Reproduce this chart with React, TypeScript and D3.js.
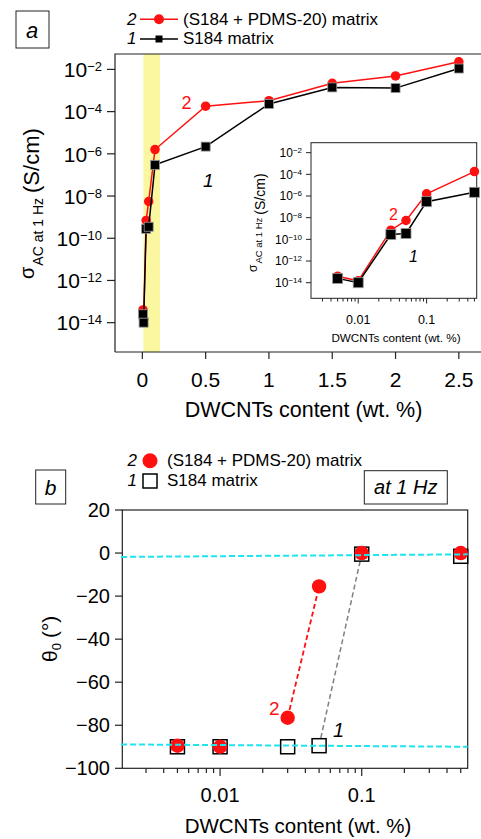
import * as d3 from "d3";
import React, { useRef, useEffect } from "react";

// ---- data ----
// panel a: AC conductivity at 1 Hz vs DWCNT content
const contentA = [0.005, 0.01, 0.03, 0.05, 0.1, 0.5, 1, 1.5, 2, 2.5];
const sigmaMix = [4e-14, 1.5e-14, 7e-10, 5.5e-9, 1.6e-6, 1.8e-4, 3.3e-4, 2.2e-3, 4.9e-3, 2.3e-2];
const sigmaS184 = [2.5e-14, 1e-14, 2.8e-10, 3.5e-10, 3e-7, 2.2e-6, 2.3e-4, 1.4e-3, 1.3e-3, 1.1e-2];
const insetContent = [0.005, 0.01, 0.03, 0.05, 0.1, 0.5];
const contentTicksA = [0, 0.5, 1, 1.5, 2, 2.5];
const sigmaExponents = [-2, -4, -6, -8, -10, -12, -14];
const percolationBand = [0.008, 0.14];

// panel b: phase angle at 1 Hz
const contentB = [0.005, 0.01, 0.03, 0.05, 0.1, 0.5];
const thetaMix = [-89.5, -90, -76.5, -15.5, 0, 0];
const thetaS184 = [-90, -90, -90, -89.5, -0.5, -1.5];
const thetaTicks = [20, 0, -20, -40, -60, -80, -100];
const logMajorTicks = [0.01, 0.1];
const fitX = [0.002, 0.56];
const fitUpper = [-1.8, -0.6];
const fitLower = [-88.9, -90];

const FONT = "'Liberation Sans', Arial, Helvetica, sans-serif";
const RED = "#ff1010";
const CYAN = "#1ee4f0";
const MINUS = "\u2212";

function logMinorTicks(domain) {
  const out = [];
  for (let e = -4; e <= 1; e++) {
    for (let m = 2; m <= 9; m++) {
      const v = m * Math.pow(10, e);
      if (v >= domain[0] && v <= domain[1]) out.push(v);
    }
  }
  return out;
}

function drawSeries(g, xs, ys, x, y, color, shape, size, lineW) {
  const pts = xs.map((v, i) => [x(v), y(ys[i])]);
  g.append("path")
    .attr("d", d3.line()(pts))
    .attr("fill", "none")
    .attr("stroke", color)
    .attr("stroke-width", lineW);
  if (shape === "circle") {
    g.selectAll(null).data(pts).enter().append("circle")
      .attr("cx", d => d[0]).attr("cy", d => d[1]).attr("r", size / 2)
      .attr("fill", color);
  } else {
    g.selectAll(null).data(pts).enter().append("rect")
      .attr("x", d => d[0] - size / 2).attr("y", d => d[1] - size / 2)
      .attr("width", size).attr("height", size)
      .attr("fill", "#000").attr("stroke", "#999").attr("stroke-width", 0.8);
  }
}

function App() {
  const ref = useRef(null);

  useEffect(() => {
    const svg = d3.select(ref.current);
    svg.selectAll("*").remove();
    svg.attr("font-family", FONT);

    // ================= panel a =================
    const a = svg.append("g");
    const xA = d3.scaleLinear().domain([-0.216, 2.675]).range([115, 481]);
    const yA = d3.scaleLog().domain([Math.pow(10, -15.39), Math.pow(10, -1.27)]).range([352, 54]);

    // percolation band
    a.append("rect")
      .attr("x", xA(percolationBand[0]))
      .attr("width", xA(percolationBand[1]) - xA(percolationBand[0]))
      .attr("y", yA.range()[1]).attr("height", yA.range()[0] - yA.range()[1])
      .attr("fill", "#fbf6a0");

    a.append("path")
      .attr("d", `M115,352V54H481M115,352H481`)
      .attr("fill", "none").attr("stroke", "#222").attr("stroke-width", 1.2);

    sigmaExponents.forEach(e => {
      const yy = yA(Math.pow(10, e));
      a.append("line").attr("x1", 107).attr("x2", 115).attr("y1", yy).attr("y2", yy)
        .attr("stroke", "#222").attr("stroke-width", 1.2);
      const t = a.append("text").attr("x", 102).attr("y", yy + 7.8)
        .attr("text-anchor", "end").attr("font-size", 21);
      t.append("tspan").text("10");
      t.append("tspan").attr("font-size", 13).attr("dy", -6).text(MINUS + Math.abs(e));
    });

    contentTicksA.forEach(v => {
      a.append("line").attr("x1", xA(v)).attr("x2", xA(v)).attr("y1", 352).attr("y2", 359)
        .attr("stroke", "#222").attr("stroke-width", 1.2);
      a.append("text").attr("x", xA(v)).attr("y", 386.5).attr("text-anchor", "middle")
        .attr("font-size", 21).text(String(v));
    });

    a.append("text").attr("x", 303.5).attr("y", 417).attr("text-anchor", "middle")
      .attr("font-size", 21.5).text("DWCNTs content (wt. %)");

    const yt = a.append("text").attr("transform", "rotate(-90)").attr("x", -279).attr("y", 34);
    yt.append("tspan").attr("font-size", 20).text("σ");
    yt.append("tspan").attr("font-size", 14).attr("dy", 9).attr("dx", 1).text("AC at 1 Hz");
    yt.append("tspan").attr("font-size", 22).attr("dy", -4).attr("dx", 5).text("(S/cm)");

    drawSeries(a, contentA, sigmaMix, xA, yA, RED, "circle", 9.5, 1.5);
    drawSeries(a, contentA, sigmaS184, xA, yA, "#000", "square", 9, 1.5);

    a.append("text").attr("x", 181.5).attr("y", 109).attr("fill", RED).attr("font-size", 18).text("2");
    a.append("text").attr("x", 203).attr("y", 186.5).attr("font-size", 19)
      .attr("font-style", "italic").text("1");

    // legend a
    a.append("rect").attr("x", 16).attr("y", 11).attr("width", 33).attr("height", 37)
      .attr("fill", "none").attr("stroke", "#222").attr("stroke-width", 1);
    a.append("text").attr("x", 32).attr("y", 38).attr("text-anchor", "middle")
      .attr("font-size", 22).attr("font-style", "italic").text("a");

    a.append("text").attr("x", 136.5).attr("y", 25).attr("text-anchor", "end")
      .attr("font-size", 17).attr("font-style", "italic").text("2");
    a.append("line").attr("x1", 140).attr("x2", 178).attr("y1", 19.3).attr("y2", 19.3)
      .attr("stroke", RED).attr("stroke-width", 1.5);
    a.append("circle").attr("cx", 159).attr("cy", 19.3).attr("r", 5).attr("fill", RED);
    a.append("text").attr("x", 183).attr("y", 25).attr("font-size", 17).text("(S184 + PDMS-20) matrix");

    a.append("text").attr("x", 136.5).attr("y", 43.5).attr("text-anchor", "end")
      .attr("font-size", 17).attr("font-style", "italic").text("1");
    a.append("line").attr("x1", 140).attr("x2", 178).attr("y1", 39).attr("y2", 39)
      .attr("stroke", "#000").attr("stroke-width", 1.5);
    a.append("rect").attr("x", 155.5).attr("y", 35.5).attr("width", 7).attr("height", 7).attr("fill", "#000");
    a.append("text").attr("x", 183).attr("y", 43.5).attr("font-size", 17).text("S184 matrix");

    // ================= inset =================
    const ins = svg.append("g");
    const xI = d3.scaleLog().domain([0.00204, 0.54]).range([311, 476.7]);
    const yI = d3.scaleLog().domain([Math.pow(10, -15.44), Math.pow(10, -1.08)]).range([298.3, 142.7]);

    ins.append("rect").attr("x", 311).attr("y", 142.7).attr("width", 165.7).attr("height", 155.6)
      .attr("fill", "#fff").attr("stroke", "#222").attr("stroke-width", 1);

    sigmaExponents.forEach(e => {
      const yy = yI(Math.pow(10, e));
      ins.append("line").attr("x1", 306).attr("x2", 311).attr("y1", yy).attr("y2", yy)
        .attr("stroke", "#222").attr("stroke-width", 1);
      const t = ins.append("text").attr("x", 302).attr("y", yy + 4.3)
        .attr("text-anchor", "end").attr("font-size", 12);
      t.append("tspan").text("10");
      t.append("tspan").attr("font-size", 8).attr("dy", -4).text(MINUS + Math.abs(e));
    });
    logMinorTicks(xI.domain()).forEach(v => {
      ins.append("line").attr("x1", xI(v)).attr("x2", xI(v)).attr("y1", 298.3).attr("y2", 301.5)
        .attr("stroke", "#222").attr("stroke-width", 1);
    });
    logMajorTicks.forEach(v => {
      ins.append("line").attr("x1", xI(v)).attr("x2", xI(v)).attr("y1", 298.3).attr("y2", 303.5)
        .attr("stroke", "#222").attr("stroke-width", 1);
      ins.append("text").attr("x", xI(v)).attr("y", 324).attr("text-anchor", "middle")
        .attr("font-size", 12.5).text(String(v));
    });
    ins.append("text").attr("x", 396).attr("y", 341.5).attr("text-anchor", "middle")
      .attr("font-size", 11.7).text("DWCNTs content (wt. %)");

    const it = ins.append("text").attr("transform", "rotate(-90)").attr("x", -272).attr("y", 257);
    it.append("tspan").attr("font-size", 12).text("σ");
    it.append("tspan").attr("font-size", 9.5).attr("dy", 5).attr("dx", 1).text("AC at 1 Hz");
    it.append("tspan").attr("font-size", 14).attr("dy", 3).attr("dx", 3).text("(S/cm)");

    const nI = insetContent.length;
    drawSeries(ins, insetContent, sigmaMix.slice(0, nI), xI, yI, RED, "circle", 9.5, 1.5);
    drawSeries(ins, insetContent, sigmaS184.slice(0, nI), xI, yI, "#000", "square", 10, 1.5);

    ins.append("text").attr("x", 389).attr("y", 220).attr("fill", RED).attr("font-size", 16).text("2");
    ins.append("text").attr("x", 409).attr("y", 261.5).attr("font-size", 16)
      .attr("font-style", "italic").text("1");

    // ================= panel b =================
    const b = svg.append("g");
    const xB = d3.scaleLog().domain([0.00204, 0.56]).range([122.3, 467.7]);
    const yB = d3.scaleLinear().domain([-100, 20]).range([768.3, 510]);

    b.append("rect").attr("x", 122.3).attr("y", 510).attr("width", 345.4).attr("height", 258.3)
      .attr("fill", "none").attr("stroke", "#222").attr("stroke-width", 1.2);

    thetaTicks.forEach(v => {
      b.append("line").attr("x1", 115).attr("x2", 122.3).attr("y1", yB(v)).attr("y2", yB(v))
        .attr("stroke", "#222").attr("stroke-width", 1.2);
      b.append("text").attr("x", 110).attr("y", yB(v) + 7).attr("text-anchor", "end")
        .attr("font-size", 20).text(v < 0 ? MINUS + Math.abs(v) : String(v));
    });
    logMinorTicks(xB.domain()).forEach(v => {
      b.append("line").attr("x1", xB(v)).attr("x2", xB(v)).attr("y1", 768.3).attr("y2", 773)
        .attr("stroke", "#222").attr("stroke-width", 1.2);
    });
    logMajorTicks.forEach(v => {
      b.append("line").attr("x1", xB(v)).attr("x2", xB(v)).attr("y1", 768.3).attr("y2", 776)
        .attr("stroke", "#222").attr("stroke-width", 1.2);
      b.append("text").attr("x", xB(v)).attr("y", 802).attr("text-anchor", "middle")
        .attr("font-size", 20).text(String(v));
    });
    b.append("text").attr("x", 298).attr("y", 833).attr("text-anchor", "middle")
      .attr("font-size", 20.5).text("DWCNTs content (wt. %)");

    const bt = b.append("text").attr("transform", "rotate(-90)").attr("x", -662).attr("y", 57);
    bt.append("tspan").attr("font-size", 21).text("θ");
    bt.append("tspan").attr("font-size", 13).attr("dy", 4).text("0");
    bt.append("tspan").attr("font-size", 21).attr("dy", -4).attr("dx", 5).text("(°)");

    // dashed transition lines
    const line = d3.line();
    b.append("path")
      .attr("d", line([[xB(contentB[2]), yB(thetaMix[2])], [xB(contentB[3]), yB(thetaMix[3])]]))
      .attr("stroke", RED).attr("stroke-width", 1.8).attr("stroke-dasharray", "5,3").attr("fill", "none");
    b.append("path")
      .attr("d", line([[xB(contentB[3]), yB(thetaS184[3])], [xB(contentB[4]), yB(thetaS184[4])]]))
      .attr("stroke", "#808080").attr("stroke-width", 1.5).attr("stroke-dasharray", "5,3").attr("fill", "none");

    // open squares then filled circles
    b.selectAll(null).data(contentB).enter().append("rect")
      .attr("x", (d) => xB(d) - 7).attr("y", (d, i) => yB(thetaS184[i]) - 7)
      .attr("width", 14).attr("height", 14)
      .attr("fill", "#fff").attr("stroke", "#000").attr("stroke-width", 1.5);
    b.selectAll(null).data(contentB).enter().append("circle")
      .attr("cx", (d) => xB(d)).attr("cy", (d, i) => yB(thetaMix[i])).attr("r", 7.2)
      .attr("fill", RED);

    // cyan fits
    [fitUpper, fitLower].forEach(f => {
      b.append("path")
        .attr("d", line([[xB(fitX[0]), yB(f[0])], [xB(fitX[1]), yB(f[1])]]))
        .attr("stroke", CYAN).attr("stroke-width", 2).attr("stroke-dasharray", "6,3").attr("fill", "none");
    });

    b.append("text").attr("x", 269).attr("y", 715).attr("fill", RED).attr("font-size", 19).text("2");
    b.append("text").attr("x", 333).attr("y", 736.5).attr("font-size", 20)
      .attr("font-style", "italic").text("1");

    // legend b
    b.append("text").attr("x", 137).attr("y", 466).attr("text-anchor", "end")
      .attr("font-size", 17).attr("font-style", "italic").text("2");
    b.append("circle").attr("cx", 150).attr("cy", 460.7).attr("r", 7.5).attr("fill", RED);
    b.append("text").attr("x", 167).attr("y", 466).attr("font-size", 17).text("(S184 + PDMS-20) matrix");
    b.append("text").attr("x", 137).attr("y", 485.5).attr("text-anchor", "end")
      .attr("font-size", 17).attr("font-style", "italic").text("1");
    b.append("rect").attr("x", 143).attr("y", 474).attr("width", 14).attr("height", 14)
      .attr("fill", "#fff").attr("stroke", "#000").attr("stroke-width", 1.5);
    b.append("text").attr("x", 167).attr("y", 485.5).attr("font-size", 17).text("S184 matrix");

    b.append("rect").attr("x", 35.7).attr("y", 470).attr("width", 30).attr("height", 34)
      .attr("fill", "none").attr("stroke", "#222").attr("stroke-width", 1);
    b.append("text").attr("x", 50.7).attr("y", 495).attr("text-anchor", "middle")
      .attr("font-size", 21).attr("font-style", "italic").text("b");

    b.append("rect").attr("x", 364.3).attr("y", 470.7).attr("width", 83).attr("height", 33.3)
      .attr("fill", "none").attr("stroke", "#222").attr("stroke-width", 1);
    b.append("text").attr("x", 405.8).attr("y", 493.5).attr("text-anchor", "middle")
      .attr("font-size", 20).attr("font-style", "italic").text("at 1 Hz");
  }, []);

  return (
    <svg ref={ref} width={481} height={839}
         style={{ position: "absolute", left: 0, top: 0, background: "#fff" }} />
  );
}

export default App;
